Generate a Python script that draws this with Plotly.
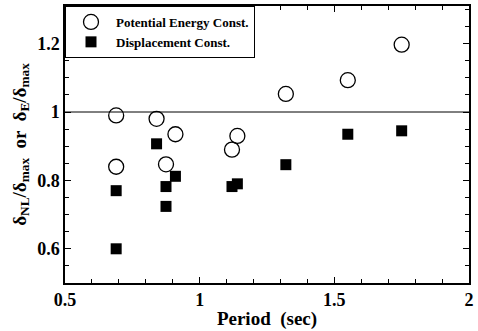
import plotly.graph_objects as go

pe_period = [0.69, 0.69, 0.84, 0.91, 0.875, 1.12, 1.14, 1.32, 1.55, 1.75]
pe_ratio = [0.99, 0.84, 0.98, 0.935, 0.847, 0.89, 0.93, 1.053, 1.093, 1.197]
dc_period = [0.69, 0.69, 0.84, 0.875, 0.875, 0.91, 1.12, 1.14, 1.32, 1.55, 1.75]
dc_ratio = [0.77, 0.60, 0.907, 0.782, 0.724, 0.812, 0.782, 0.79, 0.846, 0.935, 0.945]

font_family = "Liberation Serif"

fig = go.Figure()
fig.add_trace(go.Scatter(
    x=pe_period, y=pe_ratio, mode="markers", name="Potential Energy Const.",
    marker=dict(symbol="circle-open", size=15, color="black", line=dict(width=1.3, color="black")),
))
fig.add_trace(go.Scatter(
    x=dc_period, y=dc_ratio, mode="markers", name="Displacement Const.",
    marker=dict(symbol="square", size=11, color="black"),
))

fig.add_shape(type="line", xref="paper", x0=0, x1=1, yref="y", y0=1, y1=1,
              line=dict(color="black", width=1))

axis_common = dict(
    showgrid=False, zeroline=False, showline=True, linecolor="black", linewidth=1.5,
    mirror="ticks", ticks="inside", ticklen=6, tickcolor="black", tickwidth=1,
    tickfont=dict(family=font_family, size=18, color="black", weight="bold"),
)

fig.update_xaxes(range=[0.5, 2.0], dtick=0.5, tick0=0.5,
                 minor=dict(dtick=0.1, ticks="inside", ticklen=4, tickcolor="black"),
                 title=dict(text="Period  (sec)", font=dict(family=font_family, size=19, color="black", weight="bold"), standoff=2),
                 **axis_common)
fig.update_yaxes(range=[0.5, 1.31], dtick=0.2, tick0=0.6,
                 minor=dict(dtick=0.05, ticks="inside", ticklen=4, tickcolor="black"),
                 title=dict(text="δ<sub>NL</sub>/δ<sub>max</sub>  or  δ<sub>E</sub>/δ<sub>max</sub>",
                            font=dict(family=font_family, size=19, color="black", weight="bold"), standoff=6),
                 **axis_common)

fig.update_layout(
    width=478, height=331,
    margin=dict(l=65, r=4, t=6, b=48),
    paper_bgcolor="white", plot_bgcolor="white",
    font=dict(family=font_family, color="black"),
    showlegend=True,
    legend=dict(x=0, y=1, xanchor="left", yanchor="top", bgcolor="white",
                bordercolor="black", borderwidth=1,
                font=dict(family=font_family, size=13, color="black", weight="bold"),
                tracegroupgap=0, itemsizing="trace", itemwidth=40),
)

fig.write_html("out.html")
